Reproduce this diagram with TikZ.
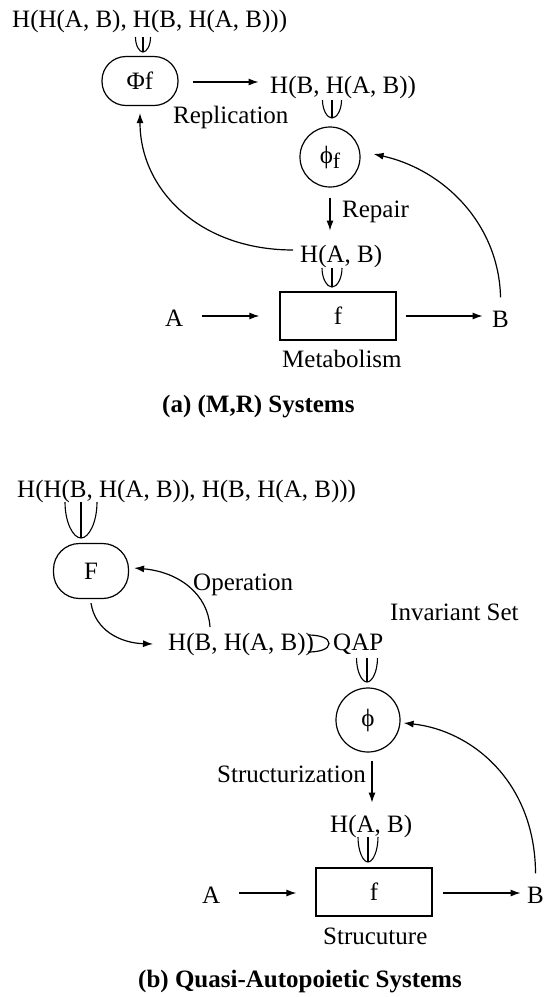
\documentclass[tikz,border=0pt]{standalone}
\usepackage{fontspec}
\setmainfont{Liberation Serif}
\usetikzlibrary{arrows.meta}
\begin{document}
\begin{tikzpicture}[x=1pt,y=-1pt,
  every node/.style={font=\fontsize{25}{30}\selectfont},
  lbl/.style={inner sep=0pt, anchor=base west},
  captxt/.style={lbl, font=\fontsize{25}{30}\selectfont\bfseries},
  conn/.style={line width=1.2pt},
  arr/.style={conn, -{Latex[length=10pt,width=7pt]}},
  oval/.style={draw, line width=1.2pt, rounded corners=24pt, minimum width=76pt, minimum height=49pt},
  ring/.style={draw, circle, line width=1.2pt, inner sep=0pt},
  box/.style={draw, line width=1.2pt, minimum width=116pt, minimum height=48pt},
  pics/incl/.style={code={
     \draw[line width=1.1pt] (-8,0) .. controls (-8,9) and (-4,16) .. (0,16) .. controls (4,16) and (8,9) .. (8,0);
     \draw[line width=1.1pt] (0,0) -- (0,16);}}
]
\useasboundingbox (0,0) rectangle (544,997);

% ---------- (a) ----------
\node[oval] (Phi) at (140,81) {Φf};
\node[ring, minimum size=60pt] (phif) at (330,157) {ϕ\raisebox{-5pt}{\fontsize{22}{22}\selectfont f}};
\node[box] (fa) at (338,316) {f};

\node[lbl] (topa) at (12,27) {H(H(A, B), H(B, H(A, B)))};
\node[lbl] (HBa) at (270,93) {H(B, H(A, B))};
\node[lbl] (repl) at (173,123) {Replication};
\node[lbl] (repair) at (342,217) {Repair};
\node[lbl] (HABa) at (300,262) {H(A, B)};
\node[lbl] (Aa) at (165,326) {A};
\node[lbl] (Ba) at (492,327) {B};
\node[lbl] (metab) at (282,367) {Metabolism};
\node[captxt] (capa) at (162,412) {(a) (M,R) Systems};

\pic[xscale=0.94,yscale=0.94] at (143,37) {incl};
\pic[xscale=1.19,yscale=1.125] at (332,100) {incl};
\pic[xscale=1.25,yscale=1.19] at (332,268) {incl};

\draw[arr] (Phi.east) ++(14,1) -- ++(66,0);
\draw[arr] (phif.south) ++(0,10) -- ++(0,33);
\draw[arr] ([xshift=-7pt,yshift=6pt]HABa.west) .. controls (200,250) and (140,190) .. ([yshift=-7pt]Phi.south);
\draw[arr] ([yshift=13pt]Ba.north) .. controls (499,225) and (445,170) .. ([xshift=13pt,yshift=3pt]phif.east);
\draw[arr] (fa.west) ++(-77,0) -- ++(57,0);
\draw[arr] (fa.east) ++(9,0) -- ++(77,0);

% ---------- (b) ----------
\node[oval, minimum width=75pt, minimum height=55pt, rounded corners=26pt] (F) at (91,571) {F};
\node[ring, minimum size=64pt] (phib) at (368,720) {ϕ};
\node[box] (fb) at (374,892) {f};

\node[lbl] (topb) at (17,497) {H(H(B, H(A, B)), H(B, H(A, B)))};
\node[lbl] (oper) at (193,590) {Operation};
\node[lbl] (HBb) at (168,650) {H(B, H(A, B))};
\node[lbl] (QAP) at (333,650) {QAP};
\node[lbl] (inv) at (390,620) {Invariant Set};
\node[lbl] (struct) at (217,782) {Structurization};
\node[lbl] (HABb) at (330,832) {H(A, B)};
\node[lbl] (Ab) at (202,903) {A};
\node[lbl] (Bb) at (527,903) {B};
\node[lbl] (strucu) at (323,944) {Strucuture};
\node[captxt] (capb) at (138,987) {(b) Quasi-Autopoietic Systems};

\pic[xscale=2.0,yscale=2.25] at (81,502) {incl};
\pic[xscale=1.31,yscale=1.5] at (367,658) {incl};
\pic[xscale=1.25,yscale=1.56] at (368,837) {incl};
\draw[conn] (308,635) .. controls (320,635) and (329,638) .. (329,643.5) .. controls (329,649) and (320,652) .. (308,652);

\draw[arr] ([yshift=-4pt]F.south) .. controls (95,630) and (120,643) .. ([xshift=-15pt]HBb.west);
\draw[arr] ([xshift=42pt,yshift=17pt]HBb.west) .. controls (208,595) and (180,572) .. ([xshift=5pt,yshift=3pt]F.east);
\draw[arr] (phib.south) ++(4,8) -- ++(0,42);
\draw[arr] ([yshift=13pt]Bb.north) .. controls (535,780) and (470,730) .. ([xshift=3pt,yshift=-3pt]phib.east);
\draw[arr] (fb.west) ++(-76,1) -- ++(57,0);
\draw[arr] (fb.east) ++(10,1) -- ++(78,0);
\end{tikzpicture}
\end{document}
